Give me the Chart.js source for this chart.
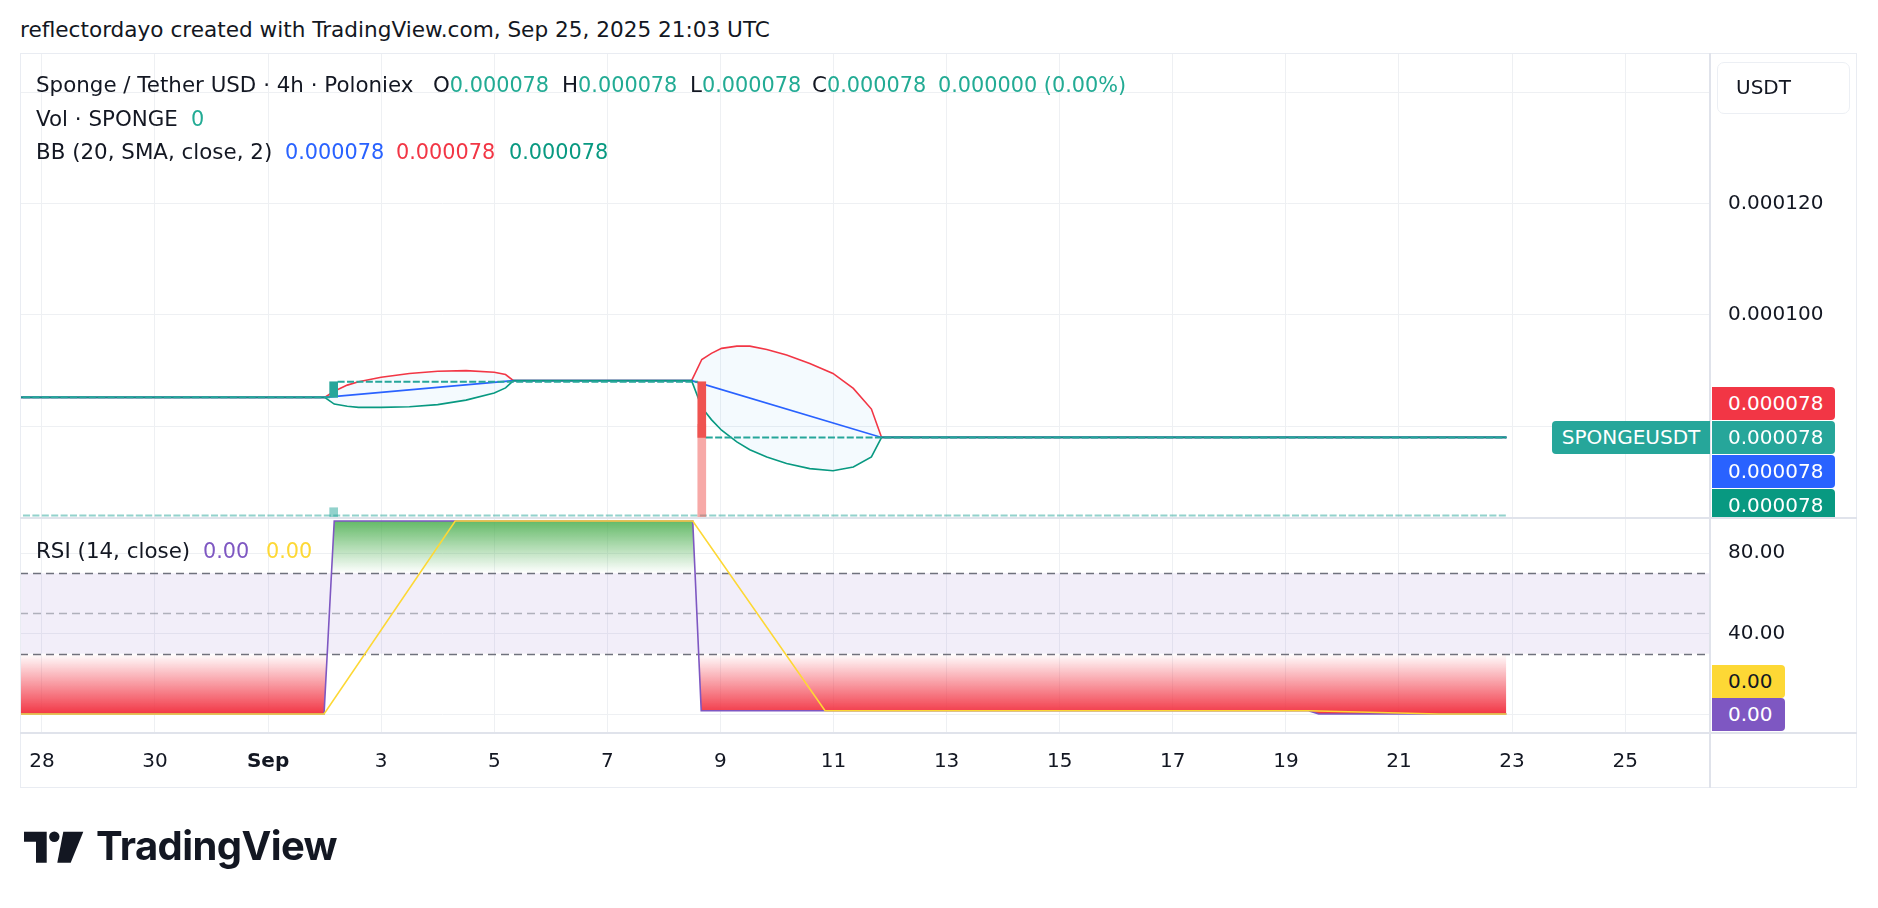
<!DOCTYPE html>
<html lang="en">
<head>
<meta charset="UTF-8">
<title>Sponge / Tether USD · 4h · Poloniex</title>
<script src="https://cdn.jsdelivr.net/npm/chart.js"></script>
<style>
  body { margin: 0; width: 1878px; height: 908px; position: relative; overflow: hidden; background: #fff;
         font-family: 'DejaVu Sans', sans-serif; color: #131722; }
  .txt { position: absolute; white-space: nowrap; height: 24px; line-height: 24px; font-size: 21.4px; }
  .num { font-size: 20.8px; }
  .sep { position: absolute; background: #e0e3eb; }
  .tag { position: absolute; box-sizing: border-box; height: 33px; line-height: 33px; font-size: 20px;
         color: #fff; white-space: nowrap; }
  #mainTags { position: absolute; left: 0; top: 54px; width: 1878px; height: 463px; overflow: hidden; }
  canvas { position: absolute; }
</style>
</head>
<body>

<div class="txt" style="left:20px;top:18px;font-size:21.6px">reflectordayo created with TradingView.com, Sep 25, 2025 21:03 UTC</div>

<canvas id="mainChart" width="1836" height="463" style="left:20px;top:54px"></canvas>
<canvas id="rsiChart" width="1836" height="268" style="left:20px;top:519px"></canvas>

<!-- frame and pane separators -->
<div style="position:absolute;left:20px;top:53px;width:1837px;height:735px;border:1px solid #e9ecf2;box-sizing:border-box"></div>
<div class="sep" style="left:20px;top:517px;width:1837px;height:2px"></div>
<div class="sep" style="left:20px;top:732px;width:1837px;height:2px"></div>
<div class="sep" style="left:1709px;top:53px;width:2px;height:735px"></div>

<!-- legends -->
<div class="txt" style="left:36px;top:73px">Sponge / Tether USD · 4h · Poloniex</div>
<div class="txt" style="left:433px;top:73px">O<span class="num" style="color:#22ab94">0.000078</span></div>
<div class="txt" style="left:562px;top:73px">H<span class="num" style="color:#22ab94">0.000078</span></div>
<div class="txt" style="left:690px;top:73px">L<span class="num" style="color:#22ab94">0.000078</span></div>
<div class="txt" style="left:812px;top:73px">C<span class="num" style="color:#22ab94">0.000078</span></div>
<div class="txt num" style="left:938px;top:73px;color:#22ab94">0.000000 (0.00%)</div>

<div class="txt" style="left:36px;top:107px">Vol · SPONGE</div>
<div class="txt num" style="left:191px;top:107px;color:#22ab94">0</div>

<div class="txt" style="left:36px;top:140px">BB (20, SMA, close, 2)</div>
<div class="txt num" style="left:285px;top:140px;color:#2962ff">0.000078</div>
<div class="txt num" style="left:396px;top:140px;color:#f23645">0.000078</div>
<div class="txt num" style="left:509px;top:140px;color:#089981">0.000078</div>

<div class="txt" style="left:36px;top:539px">RSI (14, close)</div>
<div class="txt num" style="left:203px;top:539px;color:#7e57c2">0.00</div>
<div class="txt num" style="left:266px;top:539px;color:#fdd835">0.00</div>

<!-- currency button -->
<div style="position:absolute;left:1717px;top:62px;width:133px;height:52px;border:1px solid #eceff4;border-radius:7px;box-sizing:border-box;background:#fff"></div>
<div class="txt" style="left:1736px;top:75px;font-size:20px">USDT</div>

<div id="mainTags"></div>

<!-- TradingView logo -->
<svg style="position:absolute;left:0;top:0" width="100" height="908">
  <path d="M24 831.7 H46.7 V862.7 H36 V841.7 H24 Z" fill="#131722"/>
  <circle cx="54.3" cy="836.7" r="5.2" fill="#131722"/>
  <path d="M63.3 831.7 H83.3 L70.7 862.7 H57.3 Z" fill="#131722"/>
</svg>
<div style="position:absolute;left:96px;top:822px;font-family:Inter,sans-serif;font-weight:700;font-size:40px;line-height:48px;letter-spacing:-0.6px;color:#131722">TradingView</div>

<script>
// time is counted in days from Aug 28 00:00 UTC
const tickDays   = [0, 2, 4, 6, 8, 10, 12, 14, 16, 18, 20, 22, 24, 26, 28];
const tickLabels = ['28', '30', 'Sep', '3', '5', '7', '9', '11', '13', '15', '17', '19', '21', '23', '25'];
const viewStart = -0.387;
const viewEnd = 29.5;

const priceTicks  = [0.00008, 0.0001, 0.00012, 0.00014];
const priceLabels = [0.0001, 0.00012];
const priceMin = 0.0000637;
const priceMax = 0.0001469;

// flat 4h candles (open = close); null where a real candle sits
const closeDays   = [-0.5, 5.09, 5.09, 5.23, 11.6, 11.6, 11.74, 25.9];
const closeValues = [0.0000852, 0.0000852, null, 0.000088, 0.000088, null, 0.000078, 0.000078];

// the two candles that moved
const candleDays  = [5.16, 11.67];
const candleOpen  = [0.0000852, 0.000088];
const candleClose = [0.000088, 0.000078];
const volumes     = [2, 20];
const idleVolDays = [-0.5, 25.9];
const idleVol     = [0.3, 0.3];

// Bollinger Bands (20, SMA, close, 2)
const bbDays  = [-0.5, 5.0, 5.17, 5.4, 5.6, 6.0, 6.5, 7.0, 7.5, 8.0, 8.2, 8.34,
                 11.49, 11.67, 11.84, 12.02, 12.29, 12.52, 12.82, 13.17, 13.58, 13.99, 14.35, 14.67, 14.85, 25.9];
const bbUpper = [0.0000852, 0.0000852, 0.0000863, 0.0000874, 0.0000880, 0.0000888, 0.0000895, 0.0000899, 0.0000900, 0.0000897, 0.0000893, 0.0000882,
                 0.0000882, 0.0000920, 0.0000931, 0.0000940, 0.0000944, 0.0000944, 0.0000938, 0.0000928, 0.0000913, 0.0000895, 0.0000868, 0.0000831, 0.0000780, 0.0000780];
const bbLower = [0.0000852, 0.0000852, 0.0000840, 0.0000836, 0.0000834, 0.0000834, 0.0000835, 0.0000839, 0.0000847, 0.0000860, 0.0000869, 0.0000882,
                 0.0000882, 0.0000834, 0.0000812, 0.0000793, 0.0000772, 0.0000758, 0.0000745, 0.0000733, 0.0000724, 0.0000720, 0.0000727, 0.0000745, 0.0000780, 0.0000780];
const basisDays   = [-0.5, 5.0, 8.34, 11.49, 14.85, 25.9];
const basisValues = [0.0000852, 0.0000852, 0.0000882, 0.0000882, 0.000078, 0.000078];

// RSI (14) and its moving average
const rsiTicks  = [0, 40, 80];
const rsiLabels = [40, 80];
const rsiLevels = [70, 50, 30];
const rsiMin = -9.45;
const rsiMax = 97.0;
const rsiDays     = [-0.5, 4.99, 5.17, 11.51, 11.66, 22.4, 22.58, 25.9];
const rsiValues   = [0, 0, 96, 96, 1.6, 1.6, 0, 0];
const rsiMaDays   = [-0.5, 4.99, 7.31, 11.51, 13.85, 22.4, 24.7, 25.9];
const rsiMaValues = [0, 0, 96, 96, 1.6, 1.6, 0, 0];

const gridColor = '#eef0f3';
const textColor = '#131722';
const axisFont = { family: 'DejaVu Sans', size: 20 };

const pts = (xs, ys) => xs.map((x, i) => ({ x: x, y: ys[i] }));

function vGradient(chart, from, to, c0, c1) {
  const { ctx, chartArea, scales } = chart;
  if (!chartArea) return c1;
  const g = ctx.createLinearGradient(0, scales.y.getPixelForValue(from), 0, scales.y.getPixelForValue(to));
  g.addColorStop(0, c0);
  g.addColorStop(1, c1);
  return g;
}

const baseOptions = {
  responsive: false,
  animation: false,
  devicePixelRatio: 1,
  layout: { padding: 0 },
  elements: { point: { radius: 0 }, line: { tension: 0 } },
  plugins: { legend: { display: false }, tooltip: { enabled: false } }
};

// shared time axis settings
const timeAxis = (showLabels) => ({
  type: 'linear', min: viewStart, max: viewEnd, offset: false,
  afterBuildTicks: s => { s.ticks = tickDays.map(v => ({ value: v })); },
  ticks: showLabels ? {
    callback: (v, i) => tickLabels[i],
    padding: 17, color: textColor, maxRotation: 0, autoSkip: false,
    font: c => ({ family: 'DejaVu Sans', size: 20, weight: tickLabels[c.index] === 'Sep' ? 'bold' : 'normal' })
  } : { display: false },
  grid: { color: gridColor, drawTicks: false, offset: false },
  border: { display: false },
  afterFit: s => { s.height = showLabels ? 54 : 0; s.paddingLeft = 0; s.paddingRight = 0; }
});

// ---------- price pane ----------
const main = new Chart(document.getElementById('mainChart'), {
  type: 'line',
  data: {
    datasets: [
      { label: 'BB upper', data: pts(bbDays, bbUpper), borderColor: '#f23645', borderWidth: 1.6,
        fill: 1, backgroundColor: 'rgba(33,150,243,0.05)', order: 4 },
      { label: 'BB lower', data: pts(bbDays, bbLower), borderColor: '#089981', borderWidth: 1.6, order: 2 },
      { label: 'BB basis', data: pts(basisDays, basisValues), borderColor: '#2962ff', borderWidth: 1.6, order: 3 },
      { label: 'flat candles', data: pts(closeDays, closeValues), borderColor: '#26a69a', borderWidth: 2,
        borderDash: [7, 2.4], order: 1 },
      { type: 'bar', label: 'candles', order: 0, grouped: false, barThickness: 8,
        data: candleDays.map((d, i) => ({ x: d, y: [candleOpen[i], candleClose[i]] })),
        backgroundColor: c => candleClose[c.dataIndex] >= candleOpen[c.dataIndex] ? '#26a69a' : '#ef5350' },
      { type: 'bar', label: 'volume', yAxisID: 'yv', order: 5, grouped: false, barThickness: 8,
        data: pts(candleDays, volumes),
        backgroundColor: c => candleClose[c.dataIndex] >= candleOpen[c.dataIndex] ? 'rgba(38,166,154,0.5)' : 'rgba(239,83,80,0.5)' },
      { label: 'idle volume', yAxisID: 'yv', data: pts(idleVolDays, idleVol), borderColor: 'rgba(38,166,154,0.5)',
        borderWidth: 2, borderDash: [7, 2.4], order: 6 }
    ]
  },
  options: Object.assign({}, baseOptions, {
    scales: {
      x: timeAxis(false),
      y: {
        position: 'right', min: priceMin, max: priceMax,
        afterBuildTicks: s => { s.ticks = priceTicks.map(v => ({ value: v })); },
        ticks: { callback: v => priceLabels.includes(v) ? v.toFixed(6) : '', padding: 18, color: textColor, font: axisFont },
        grid: { color: gridColor, drawTicks: false },
        border: { display: false },
        afterFit: s => { s.width = 146; s.paddingTop = 0; s.paddingBottom = 0; }
      },
      yv: { display: false, min: 0, max: 100 }
    }
  })
});

// ---------- RSI pane ----------
const rsiBackdrop = {
  id: 'rsiBackdrop',
  beforeDatasetsDraw(chart) {
    const { ctx, chartArea: a, scales: { y } } = chart;
    const top = y.getPixelForValue(rsiLevels[0]);
    const bottom = y.getPixelForValue(rsiLevels[2]);
    ctx.save();
    ctx.fillStyle = 'rgba(126,87,194,0.1)';
    ctx.fillRect(a.left, top, a.right - a.left, bottom - top);
    ctx.lineWidth = 1.6;
    ctx.setLineDash([8, 5]);
    rsiLevels.forEach((v, i) => {
      const py = Math.round(y.getPixelForValue(v)) + 0.5;
      ctx.strokeStyle = i === 1 ? 'rgba(120,123,134,0.55)' : '#6f727d';
      ctx.beginPath();
      ctx.moveTo(a.left, py);
      ctx.lineTo(a.right, py);
      ctx.stroke();
    });
    ctx.restore();
  }
};

const rsi = new Chart(document.getElementById('rsiChart'), {
  type: 'line',
  data: {
    datasets: [
      { label: 'overbought fill', data: pts(rsiDays, rsiValues), borderWidth: 0, borderColor: 'transparent',
        fill: { target: { value: 70 }, below: 'transparent' },
        backgroundColor: c => vGradient(c.chart, 100, 70, 'rgba(76,175,80,1)', 'rgba(76,175,80,0)'), order: 3 },
      { label: 'oversold fill', data: pts(rsiDays, rsiValues), borderWidth: 0, borderColor: 'transparent',
        fill: { target: { value: 30 }, above: 'transparent' },
        backgroundColor: c => vGradient(c.chart, 30, 0, 'rgba(242,54,69,0)', 'rgba(242,54,69,1)'), order: 2 },
      { label: 'RSI', data: pts(rsiDays, rsiValues), borderColor: '#7e57c2', borderWidth: 1.6, order: 1 },
      { label: 'RSI-based MA', data: pts(rsiMaDays, rsiMaValues), borderColor: '#fdd835', borderWidth: 1.6, order: 0 }
    ]
  },
  options: Object.assign({}, baseOptions, {
    scales: {
      x: timeAxis(true),
      y: {
        position: 'right', min: rsiMin, max: rsiMax,
        afterBuildTicks: s => { s.ticks = rsiTicks.map(v => ({ value: v })); },
        ticks: { callback: v => rsiLabels.includes(v) ? v.toFixed(2) : '', padding: 18, color: textColor, font: axisFont },
        grid: { color: gridColor, drawTicks: false },
        border: { display: false },
        afterFit: s => { s.width = 146; s.paddingTop = 0; s.paddingBottom = 0; }
      }
    }
  }),
  plugins: [rsiBackdrop]
});

// ---------- price-scale tags ----------
function addTag(parent, text, left, top, width, bg, fg, radius, align) {
  const el = document.createElement('div');
  el.className = 'tag';
  el.textContent = text;
  el.style.cssText += `left:${left}px;top:${top}px;width:${width}px;background:${bg};color:${fg};border-radius:${radius};text-align:${align};`;
  if (align === 'left') el.style.paddingLeft = '16px';
  parent.appendChild(el);
}

const mainBox = document.getElementById('mainTags');
const lastClose = closeValues[closeValues.length - 1];
const yClose = main.scales.y.getPixelForValue(lastClose);   // relative to the price pane
const stack = [
  { v: bbUpper[bbUpper.length - 1], bg: '#f23645' },
  { v: lastClose, bg: '#26a69a' },
  { v: basisValues[basisValues.length - 1], bg: '#2962ff' },
  { v: bbLower[bbLower.length - 1], bg: '#089981' }
];
stack.forEach((t, i) => {
  addTag(mainBox, t.v.toFixed(6), 1712, Math.round(yClose - 16.5 + (i - 1) * 34), 123, t.bg, '#fff', '0 4px 4px 0', 'left');
});
addTag(mainBox, 'SPONGEUSDT', 1552, Math.round(yClose - 16.5), 158, '#26a69a', '#fff', '4px 0 0 4px', 'center');

const rsiTop = document.getElementById('rsiChart').offsetTop;
const yRsi = rsiTop + rsi.scales.y.getPixelForValue(rsiValues[rsiValues.length - 1]);
addTag(document.body, rsiValues[rsiValues.length - 1].toFixed(2), 1712, Math.round(yRsi - 16.5), 73, '#7e57c2', '#fff', '0 4px 4px 0', 'left');
addTag(document.body, rsiMaValues[rsiMaValues.length - 1].toFixed(2), 1712, Math.round(yRsi - 16.5 - 33), 73, '#fdd835', textColor, '0 4px 4px 0', 'left');
</script>
</body>
</html>
